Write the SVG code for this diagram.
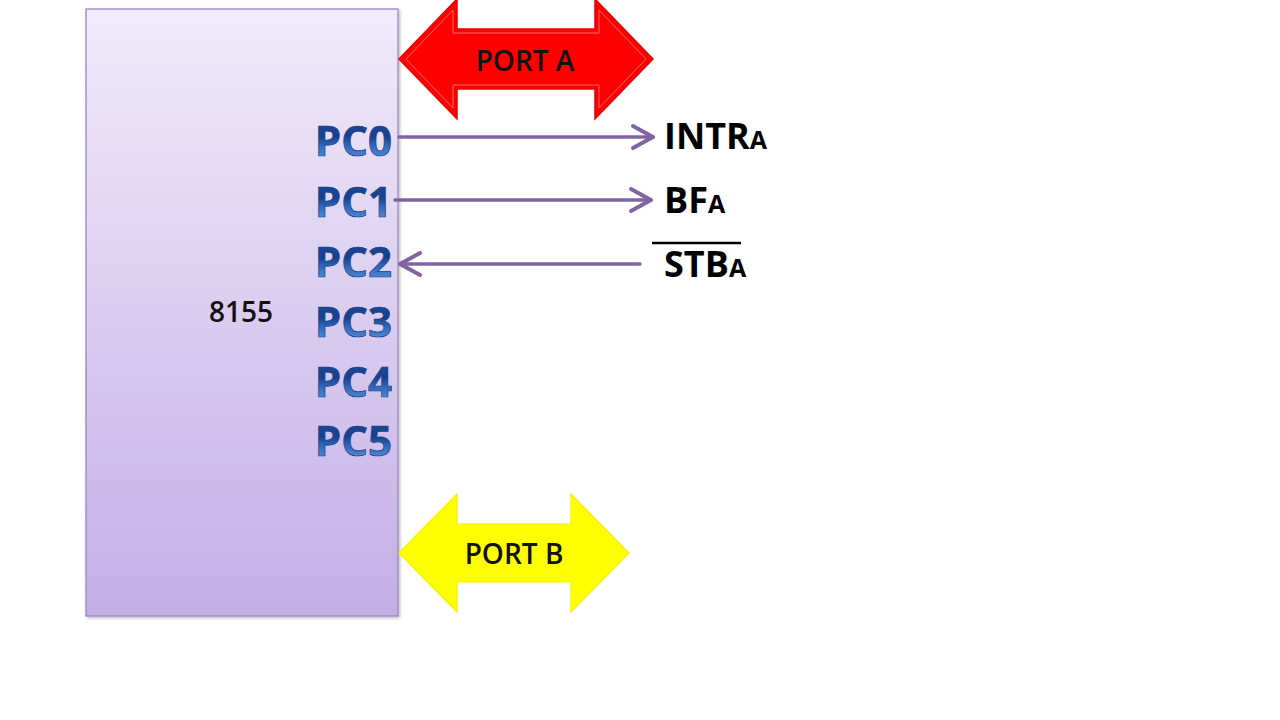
<svg xmlns="http://www.w3.org/2000/svg" width="1280" height="720" viewBox="0 0 1280 720">
<defs>
<linearGradient id="chipFill" x1="0" y1="0" x2="0" y2="1">
<stop offset="0" stop-color="#f1ebfa"/>
<stop offset="1" stop-color="#c3afe6"/>
</linearGradient>
<linearGradient id="pcFill" x1="0" y1="0" x2="0" y2="1">
<stop offset="0" stop-color="#234f9e"/>
<stop offset="0.45" stop-color="#17408c"/>
<stop offset="0.6" stop-color="#2f66ba"/>
<stop offset="1" stop-color="#6fa6e6"/>
</linearGradient>
<filter id="shadow" x="-5%" y="-5%" width="110%" height="110%">
<feDropShadow dx="1.5" dy="1.5" stdDeviation="1.5" flood-color="#000" flood-opacity="0.25"/>
</filter>
<marker id="chev" markerUnits="userSpaceOnUse" markerWidth="30" markerHeight="30" viewBox="-26 -15 30 30" refX="0" refY="0" orient="auto">
<path d="M-20,-11 L0,0 L-20,11" fill="none" stroke="#8064a2" stroke-width="4" stroke-linecap="round" stroke-linejoin="round"/>
</marker>
</defs>
<style>
.pc{font-family:"Open Sans","Liberation Sans",sans-serif;font-weight:bold;font-size:42px;fill:url(#pcFill);stroke:#173f88;stroke-width:0.7;text-anchor:end}
.sig{font-family:"Open Sans","Liberation Sans",sans-serif;font-weight:bold;font-size:36px;fill:#000}
.sub{font-size:25px}
.port{font-family:"Open Sans","Liberation Sans",sans-serif;font-weight:600;font-size:28px;fill:#111;text-anchor:middle}
.conn{stroke:#8064a2;stroke-width:3.5;fill:none;stroke-linecap:round;marker-end:url(#chev)}
</style>
<rect width="1280" height="720" fill="#ffffff"/>

<g id="chip8155">
<rect x="86" y="9" width="312" height="607" fill="url(#chipFill)" stroke="#9a86c2" stroke-width="1.3" filter="url(#shadow)"/>
<text x="241" y="322" class="port" font-size="27">8155</text>
</g>

<g id="pins">
<text x="392" y="156" class="pc">PC0</text>
<text x="392" y="217" class="pc">PC1</text>
<text x="392" y="277" class="pc">PC2</text>
<text x="392" y="337" class="pc">PC3</text>
<text x="392" y="397" class="pc">PC4</text>
<text x="392" y="456" class="pc">PC5</text>
</g>

<g id="portA">
<path d="M399,59 L457,-1 L457,29 L595,29 L595,-1 L653,59 L595,119 L595,89 L457,89 L457,119 Z" fill="#ff0000" stroke="#e80000" stroke-width="1.5"/>
<path d="M406,59 L453,10 L453,33 L599,33 L599,10 L646,59 L599,108 L599,85 L453,85 L453,108 Z" fill="none" stroke="#ff6a6a" stroke-width="1"/>
<text x="525" y="71" class="port">PORT A</text>
</g>

<g id="portB">
<path d="M399,553 L457,494 L457,524 L571,524 L571,494 L629,553 L571,612 L571,582 L457,582 L457,612 Z" fill="#ffff00" stroke="#f2f200" stroke-width="1.2"/>
<text x="514" y="564" class="port">PORT B</text>
</g>

<g id="connectors">
<line x1="399" y1="137" x2="653" y2="137" class="conn"/>
<line x1="395" y1="200" x2="651" y2="200" class="conn"/>
<line x1="640" y1="264" x2="400" y2="264" class="conn"/>
</g>

<g id="labelINTR">
<text x="664" y="149" class="sig">INTR<tspan class="sub">A</tspan></text>
</g>
<g id="labelBF">
<text x="664" y="213" class="sig">BF<tspan class="sub">A</tspan></text>
</g>
<g id="labelSTB">
<line x1="652" y1="243" x2="741" y2="243" stroke="#000" stroke-width="2.5"/>
<text x="664" y="277" class="sig">STB<tspan class="sub">A</tspan></text>
</g>
</svg>
